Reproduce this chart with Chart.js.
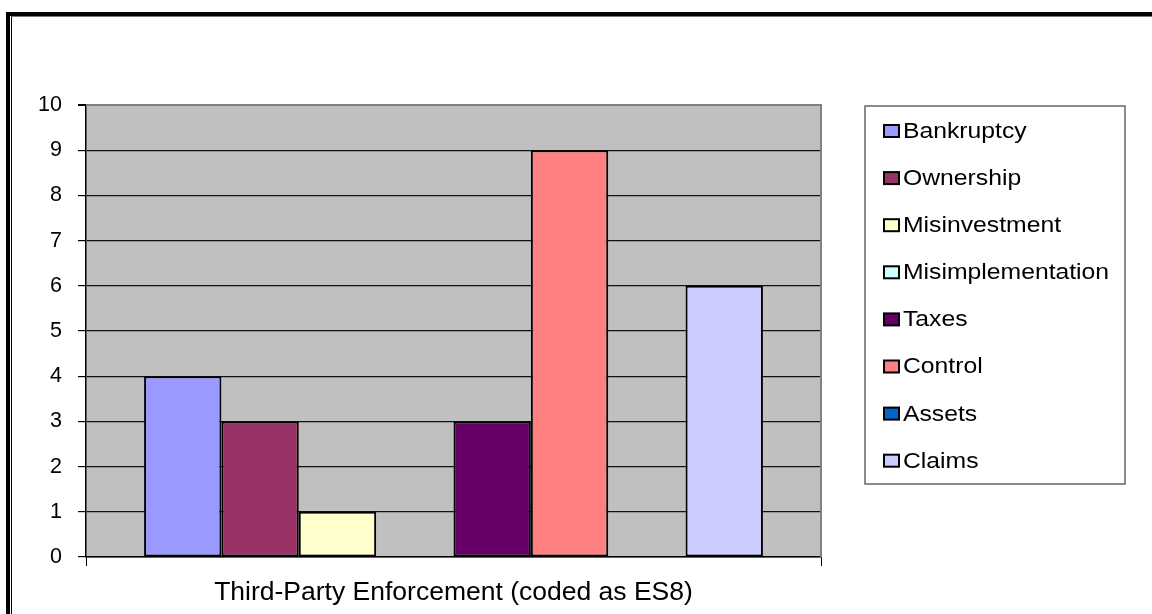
<!DOCTYPE html>
<html>
<head>
<meta charset="utf-8">
<script src="https://cdn.jsdelivr.net/npm/chart.js@4.4.0/dist/chart.umd.min.js"></script>
<style>
  html, body { margin: 0; padding: 0; background: #fff; overflow: hidden; }
  #wrap { position: relative; width: 1152px; height: 614px; }
  .frame-outer { position: absolute; left: 6px; top: 12px; width: 1300px; height: 700px;
    border-left: 4px solid #000; border-top: 4px solid #000; }
  .frame-inner { position: absolute; left: 11px; top: 16px; width: 1300px; height: 700px;
    border-left: 1px solid #000; border-top: 1px solid #777; }
  canvas { position: absolute; left: 0; top: 0; }
</style>
</head>
<body>
<div id="wrap">
  <div class="frame-outer"></div>
  <div class="frame-inner"></div>
  <canvas id="chart" width="1152" height="614"></canvas>
</div>
<script>
// data
const categories = ['Third-Party Enforcement (coded as ES8)'];
const seriesNames = ['Bankruptcy', 'Ownership', 'Misinvestment', 'Misimplementation', 'Taxes', 'Control', 'Assets', 'Claims'];
const seriesValues = [4, 3, 1, 0, 3, 9, 0, 6];
const seriesColors = ['#9999FF', '#993366', '#FFFFCC', '#CCFFFF', '#660066', '#FF8080', '#0066CC', '#CCCCFF'];
const yMin = 0, yMax = 10, yStep = 1;

const FONT = '"Liberation Sans", Arial, sans-serif';

// gray plot area with the gray top/right edge
const plotBackground = {
    id: 'plotBackground',
    beforeDraw(chart) {
        const { ctx, chartArea: a } = chart;
        ctx.save();
        ctx.fillStyle = '#C0C0C0';
        ctx.fillRect(a.left, a.top, a.right - a.left, a.bottom - a.top);
        ctx.restore();
    },
    beforeDatasetsDraw(chart) {
        const { ctx, chartArea: a } = chart;
        ctx.save();
        ctx.strokeStyle = '#808080';
        ctx.lineWidth = 2;
        ctx.beginPath();
        ctx.moveTo(a.left, a.top);
        ctx.lineTo(a.right, a.top);
        ctx.lineTo(a.right, a.bottom);
        ctx.stroke();
        ctx.restore();
    }
};

// boxed legend on the right, like the spreadsheet one
const boxLegend = {
    id: 'boxLegend',
    afterDraw(chart) {
        const ctx = chart.ctx;
        const box = { left: 865, top: 106, right: 1125, bottom: 484 };
        ctx.save();
        ctx.strokeStyle = '#666';
        ctx.lineWidth = 1.5;
        ctx.strokeRect(box.left, box.top, box.right - box.left, box.bottom - box.top);
        ctx.font = '21.5px ' + FONT;
        ctx.textBaseline = 'middle';
        chart.data.datasets.forEach((ds, i) => {
            const cy = 131 + i * 47.1;
            ctx.fillStyle = ds.backgroundColor;
            ctx.fillRect(884, cy - 6, 15, 12);
            ctx.strokeStyle = '#000';
            ctx.lineWidth = 2;
            ctx.strokeRect(884, cy - 6, 15, 12);
            ctx.fillStyle = '#000';
            ctx.save();
            ctx.translate(903, cy + 1);
            ctx.scale(1.15, 1);
            ctx.fillText(ds.label, 0, 0);
            ctx.restore();
        });
        ctx.restore();
    }
};

const datasets = seriesNames.map((name, i) => ({
    label: name,
    data: [seriesValues[i]],
    backgroundColor: seriesColors[i],
    borderColor: '#000',
    borderWidth: 2,
    borderSkipped: false,
    barPercentage: 1,
    categoryPercentage: 0.842
}));

new Chart(document.getElementById('chart'), {
    type: 'bar',
    data: { labels: categories, datasets: datasets },
    options: {
        responsive: false,
        animation: false,
        layout: { padding: { left: 0, top: 105, right: 331, bottom: 0 } },
        plugins: { legend: { display: false }, tooltip: { enabled: false } },
        scales: {
            x: {
                afterFit: (s) => { s.height = 57; },
                grid: { offset: true, drawOnChartArea: false, drawTicks: true, tickLength: 9, color: '#000' },
                border: { display: true, color: '#000', width: 1.5 },
                ticks: { color: '#000', padding: 11, font: { family: FONT, size: 26.5 } }
            },
            y: {
                min: yMin, max: yMax,
                afterFit: (s) => { s.width = 86; },
                grid: {
                    color: (c) => c.tick && c.tick.value === yMax ? '#808080' : '#111',
                    lineWidth: (c) => c.tick && c.tick.value === yMax ? 2 : 1.2,
                    tickColor: '#000',
                    tickLength: 8
                },
                border: { display: true, color: '#000', width: 1.5 },
                ticks: { stepSize: yStep, color: '#000', padding: 16, font: { family: FONT, size: 21.5 } }
            }
        }
    },
    plugins: [plotBackground, boxLegend]
});
</script>
</body>
</html>
